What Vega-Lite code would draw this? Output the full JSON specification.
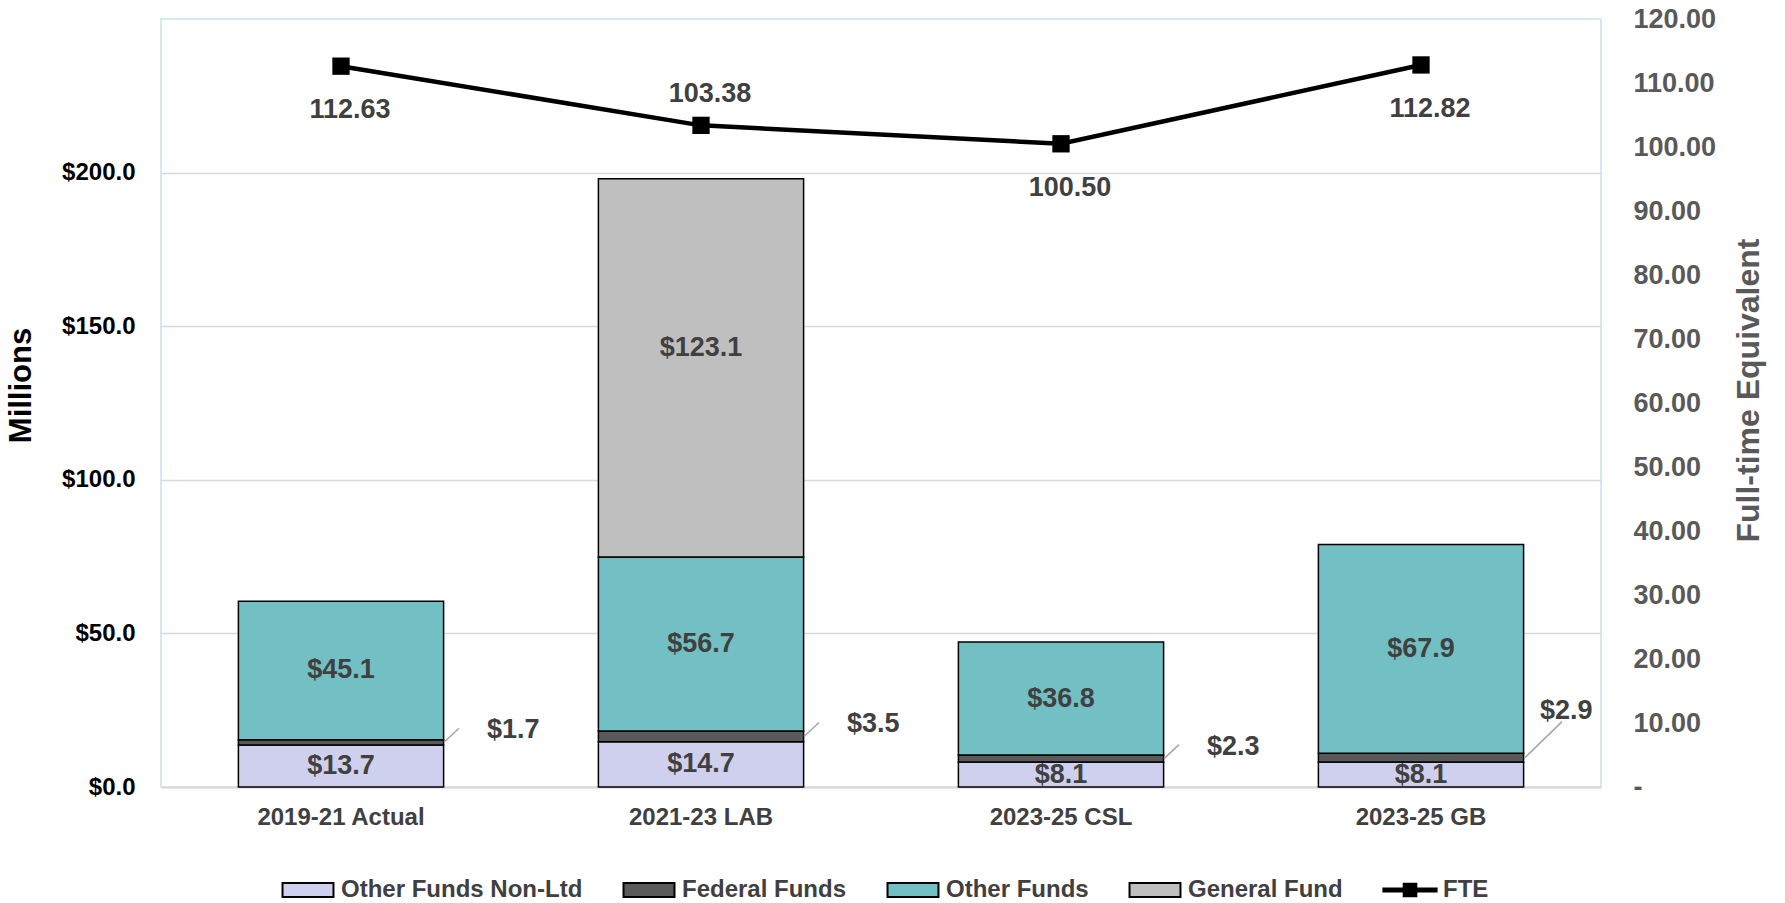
{
  "$schema": "https://vega.github.io/schema/vega-lite/v6.json",
  "width": 1440,
  "height": 768,
  "autosize": {"type": "none"},
  "padding": {"left": 161, "top": 19, "right": 184, "bottom": 116},
  "background": "white",
  "config": {
    "font": "Liberation Sans",
    "view": {"stroke": "#c8e3e7", "strokeWidth": 1.5},
    "text": {"font": "Liberation Sans", "fontWeight": "bold"}
  },
  "datasets": {
    "funds": [
      {"cat": "2019-21 Actual", "series": "Other Funds Non-Ltd", "ord": 1, "value": 13.7},
      {"cat": "2019-21 Actual", "series": "Federal Funds", "ord": 2, "value": 1.7},
      {"cat": "2019-21 Actual", "series": "Other Funds", "ord": 3, "value": 45.1},
      {"cat": "2021-23 LAB", "series": "Other Funds Non-Ltd", "ord": 1, "value": 14.7},
      {"cat": "2021-23 LAB", "series": "Federal Funds", "ord": 2, "value": 3.5},
      {"cat": "2021-23 LAB", "series": "Other Funds", "ord": 3, "value": 56.7},
      {"cat": "2021-23 LAB", "series": "General Fund", "ord": 4, "value": 123.1},
      {"cat": "2023-25 CSL", "series": "Other Funds Non-Ltd", "ord": 1, "value": 8.1},
      {"cat": "2023-25 CSL", "series": "Federal Funds", "ord": 2, "value": 2.3},
      {"cat": "2023-25 CSL", "series": "Other Funds", "ord": 3, "value": 36.8},
      {"cat": "2023-25 GB", "series": "Other Funds Non-Ltd", "ord": 1, "value": 8.1},
      {"cat": "2023-25 GB", "series": "Federal Funds", "ord": 2, "value": 2.9},
      {"cat": "2023-25 GB", "series": "Other Funds", "ord": 3, "value": 67.9}
    ],
    "fte": [
      {"cat": "2019-21 Actual", "fte": 112.63},
      {"cat": "2021-23 LAB", "fte": 103.38},
      {"cat": "2023-25 CSL", "fte": 100.50},
      {"cat": "2023-25 GB", "fte": 112.82}
    ]
  },
  "encoding": {
    "x": {
      "field": "cat",
      "type": "nominal",
      "sort": ["2019-21 Actual", "2021-23 LAB", "2023-25 CSL", "2023-25 GB"],
      "scale": {"paddingInner": 0.43, "paddingOuter": 0.215},
      "axis": {
        "title": null,
        "labelAngle": 0,
        "labelFontSize": 24,
        "labelFontWeight": "bold",
        "labelColor": "#404040",
        "ticks": false,
        "domainColor": "#d9d9d9",
        "domainWidth": 2,
        "labelPadding": 18
      }
    }
  },
  "layer": [
    {
      "data": {"name": "funds"},
      "transform": [
        {"stack": "value", "groupby": ["cat"], "sort": [{"field": "ord"}], "as": ["v0", "v1"]},
        {"calculate": "(datum.v0 + datum.v1) / 2", "as": "mid"}
      ],
      "layer": [
        {
          "mark": {"type": "bar", "stroke": "black", "strokeWidth": 1.5},
          "encoding": {
            "y": {
              "field": "v0",
              "type": "quantitative",
              "scale": {"domain": [0, 250], "nice": false, "zero": true},
              "axis": {
                "title": "Millions",
                "orient": "left",
                "values": [0, 50, 100, 150, 200],
                "format": "$,.1f",
                "labelFontSize": 24,
                "labelFontWeight": "bold",
                "labelColor": "black",
                "titleFontSize": 31,
                "titleFontWeight": "bold",
                "titleColor": "black",
                "titleY": 366,
                "domain": false,
                "ticks": false,
                "labelPadding": 26,
                "titlePadding": 24,
                "grid": true,
                "gridColor": "#d9d9d9",
                "gridWidth": 1.5
              }
            },
            "y2": {"field": "v1"},
            "color": {
              "field": "series",
              "type": "nominal",
              "scale": {
                "domain": ["Other Funds Non-Ltd", "Federal Funds", "Other Funds", "General Fund", "FTE"],
                "range": ["#cfcfee", "#595959", "#72bfc4", "#bfbfbf", "#000000"]
              },
              "legend": {
                "title": null,
                "orient": "none",
                "legendX": 132,
                "legendY": 856,
                "direction": "horizontal",
                "columns": 5,
                "labelFont": "Liberation Sans",
                "labelFontSize": 24,
                "labelFontWeight": "bold",
                "labelColor": "#404040",
                "labelLimit": 500,
                "symbolSize": 784,
                "symbolType": "M-1.82,-0.5H1.82V0.5H-1.82Z",
                "symbolStrokeColor": "black",
                "symbolStrokeWidth": 2,
                "labelOffset": 18,
                "columnPadding": 36,
                "encode": {
                  "symbols": {
                    "update": {
                      "shape": {"signal": "datum.label === 'FTE' ? 'M-1.9,-0.1H1.9V0.1H-1.9Z M-0.45,-0.45H0.45V0.45H-0.45Z' : 'M-1.82,-0.5H1.82V0.5H-1.82Z'"},
                      "fill": {"signal": "scale('color', datum.value)"},
                      "fillOpacity": {"value": 1},
                      "opacity": {"value": 1},
                      "stroke": {"value": "black"},
                      "strokeWidth": {"value": 2}
                    }
                  }
                }
              }
            }
          }
        },
        {
          "transform": [{"filter": "datum.series !== 'Federal Funds' && datum.series !== 'General Fund'"}],
          "mark": {"type": "text", "fontSize": 27, "color": "#404040", "baseline": "middle"},
          "encoding": {
            "y": {"field": "mid", "type": "quantitative"},
            "text": {"field": "value", "type": "quantitative", "format": "$.1f"}
          }
        },
        {
          "transform": [{"filter": "datum.series === 'General Fund'"}],
          "mark": {"type": "text", "fontSize": 27, "color": "#404040", "baseline": "middle", "dy": -20},
          "encoding": {
            "y": {"field": "mid", "type": "quantitative"},
            "text": {"field": "value", "type": "quantitative", "format": "$.1f"}
          }
        },
        {
          "transform": [{"filter": "datum.series === 'Federal Funds' && datum.cat !== '2023-25 GB'"}],
          "mark": {"type": "rule", "color": "#a6a6a6", "strokeWidth": 1.5, "xOffset": 103, "x2Offset": 118, "y2Offset": -14},
          "encoding": {
            "x2": {"field": "cat"},
            "y": {"field": "mid", "type": "quantitative"},
            "y2": {"field": "mid"}
          }
        },
        {
          "transform": [{"filter": "datum.series === 'Federal Funds' && datum.cat !== '2023-25 GB'"}],
          "mark": {"type": "text", "fontSize": 27, "color": "#404040", "baseline": "middle", "align": "left", "dx": 146, "dy": -12},
          "encoding": {
            "y": {"field": "mid", "type": "quantitative"},
            "text": {"field": "value", "type": "quantitative", "format": "$.1f"}
          }
        },
        {
          "transform": [{"filter": "datum.series === 'Federal Funds' && datum.cat === '2023-25 GB'"}],
          "mark": {"type": "rule", "color": "#a6a6a6", "strokeWidth": 1.5, "xOffset": 104, "x2Offset": 141, "y2Offset": -36},
          "encoding": {
            "x2": {"field": "cat"},
            "y": {"field": "mid", "type": "quantitative"},
            "y2": {"field": "mid"}
          }
        },
        {
          "transform": [{"filter": "datum.series === 'Federal Funds' && datum.cat === '2023-25 GB'"}],
          "mark": {"type": "text", "fontSize": 27, "color": "#404040", "baseline": "middle", "align": "left", "dx": 119, "dy": -47},
          "encoding": {
            "y": {"field": "mid", "type": "quantitative"},
            "text": {"field": "value", "type": "quantitative", "format": "$.1f"}
          }
        }
      ]
    },
    {
      "data": {"name": "fte"},
      "encoding": {
        "y": {
          "field": "fte",
          "type": "quantitative",
          "scale": {"domain": [0, 120], "nice": false},
          "axis": {
            "title": "Full-time Equivalent",
            "orient": "right",
            "values": [0, 10, 20, 30, 40, 50, 60, 70, 80, 90, 100, 110, 120],
            "labelExpr": "datum.value === 0 ? '-' : format(datum.value, '.2f')",
            "labelFontSize": 27,
            "labelFontWeight": "bold",
            "labelColor": "#595959",
            "titleFontSize": 32,
            "titleFontWeight": "bold",
            "titleColor": "#595959",
            "titleAngle": 270,
            "titleY": 371,
            "domain": false,
            "ticks": false,
            "grid": false,
            "labelPadding": 32,
            "titlePadding": 50
          }
        }
      },
      "layer": [
        {
          "mark": {"type": "line", "strokeWidth": 4.5, "color": "black"},
          "encoding": {}
        },
        {
          "mark": {"type": "square", "size": 300, "filled": true, "opacity": 1, "color": "black"},
          "encoding": {}
        },
        {
          "transform": [{"filter": "datum.cat !== '2021-23 LAB'"}],
          "mark": {"type": "text", "fontSize": 27, "color": "#404040", "baseline": "middle", "dy": 44, "dx": 9},
          "encoding": {"text": {"field": "fte", "type": "quantitative", "format": ".2f"}}
        },
        {
          "transform": [{"filter": "datum.cat === '2021-23 LAB'"}],
          "mark": {"type": "text", "fontSize": 27, "color": "#404040", "baseline": "middle", "dy": -31, "dx": 9},
          "encoding": {"text": {"field": "fte", "type": "quantitative", "format": ".2f"}}
        }
      ]
    }
  ],
  "resolve": {"scale": {"y": "independent"}}
}
